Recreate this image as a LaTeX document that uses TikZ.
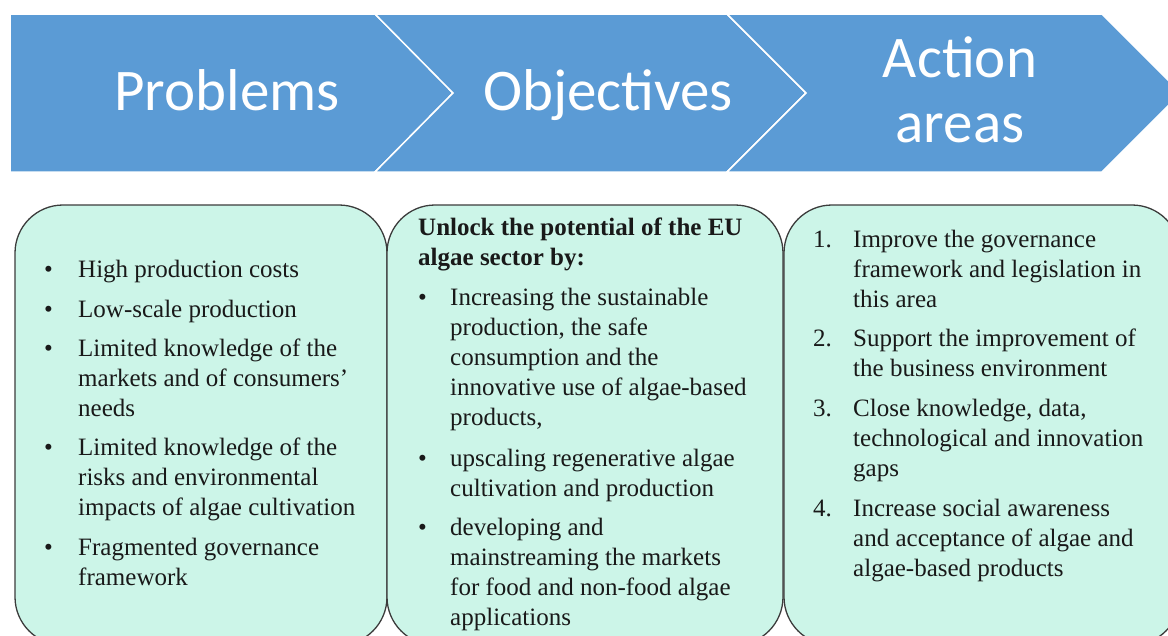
\documentclass[tikz,border=0pt]{standalone}
\usepackage{fontspec}
\setmainfont{Liberation Serif}
\newfontfamily\titlefont{Carlito}
\definecolor{bandblue}{RGB}{91,155,213}
\definecolor{mint}{RGB}{204,245,232}
\definecolor{boxline}{RGB}{60,60,60}
\definecolor{txt}{RGB}{25,25,25}
\tikzset{
  band/.style={fill=bandblue, draw=white, line width=1.5pt, line join=miter},
  title/.style={text=white, font=\titlefont\fontsize{59}{65}\selectfont, inner sep=0, align=center},
  panel/.style={fill=mint, draw=boxline, line width=1.3pt, rounded corners=48pt},
  ln/.style={anchor=base west, inner sep=0, text=txt, font=\fontsize{25}{30}\selectfont},
  bl/.style={anchor=base west, inner sep=0, text=txt, font=\fontsize{25}{30}\selectfont\bfseries},
}
\begin{document}
\begin{tikzpicture}[x=1pt,y=-1pt]
\useasboundingbox (0,0) rectangle (1168,635);
\clip (0,0) rectangle (1168,635);
% banner
\draw[band] (10,14) -- (375,14) -- (453,93) -- (375,172) -- (10,172) -- cycle;
\draw[band] (375,14) -- (727,14) -- (806,93) -- (727,172) -- (375,172) -- (453,93) -- cycle;
\draw[band] (727,14) -- (1102,14) -- (1181,93) -- (1102,172) -- (727,172) -- (806,93) -- cycle;
\node[title, anchor=base] (t1) at (227,110) {Problems};
\node[title, anchor=base] (t2) at (608,110) {Objectives};
\node[title, anchor=base] (t3a) at (960,77) {Action};
\node[title, anchor=base] (t3b) at (960,142) {areas};
% panels
\draw[panel] (15,205) rectangle (387,645);
\draw[panel] (387,205) rectangle (783,645);
\draw[panel] (784,205) rectangle (1180,645);
% panel 1
\foreach \y in {277,317,356,455,555} \node[ln] at (44,\y) {\textbullet};
\node[ln] (p1) at (78,277) {High production costs};
\node[ln] (p2) at (78,317) {Low-scale production};
\node[ln] (p3a) at (78,356) {Limited knowledge of the};
\node[ln] (p3b) at (78,386) {markets and of consumers’};
\node[ln] (p3c) at (78,416) {needs};
\node[ln] (p4a) at (78,455) {Limited knowledge of the};
\node[ln] (p4b) at (78,485) {risks and environmental};
\node[ln] (p4c) at (78,515) {impacts of algae cultivation};
\node[ln] (p5a) at (78,555) {Fragmented governance};
\node[ln] (p5b) at (78,585) {framework};
% panel 2
\node[bl] (oh1) at (418,235) {Unlock the potential of the EU};
\node[bl] (oh2) at (418,265) {algae sector by:};
\foreach \y in {305,466,535} \node[ln] at (418,\y) {\textbullet};
\node[ln] (o1a) at (450,305) {Increasing the sustainable};
\node[ln] (o1b) at (450,335) {production, the safe};
\node[ln] (o1c) at (450,365) {consumption and the};
\node[ln] (o1d) at (450,395) {innovative use of algae-based};
\node[ln] (o1e) at (450,425) {products,};
\node[ln] (o2a) at (450,466) {upscaling regenerative algae};
\node[ln] (o2b) at (450,496) {cultivation and production};
\node[ln] (o3a) at (450,535) {developing and};
\node[ln] (o3b) at (450,565) {mainstreaming the markets};
\node[ln] (o3c) at (450,595) {for food and non-food algae};
\node[ln] (o3d) at (450,625) {applications};
% panel 3
\node[ln] (n1) at (813,247) {1.};
\node[ln] (n2) at (813,346) {2.};
\node[ln] (n3) at (813,416) {3.};
\node[ln] (n4) at (813,516) {4.};
\node[ln] (a1a) at (853,247) {Improve the governance};
\node[ln] (a1b) at (853,277) {framework and legislation in};
\node[ln] (a1c) at (853,307) {this area};
\node[ln] (a2a) at (853,346) {Support the improvement of};
\node[ln] (a2b) at (853,376) {the business environment};
\node[ln] (a3a) at (853,416) {Close knowledge, data,};
\node[ln] (a3b) at (853,446) {technological and innovation};
\node[ln] (a3c) at (853,476) {gaps};
\node[ln] (a4a) at (853,516) {Increase social awareness};
\node[ln] (a4b) at (853,546) {and acceptance of algae and};
\node[ln] (a4c) at (853,576) {algae-based products};
\end{tikzpicture}
\end{document}
